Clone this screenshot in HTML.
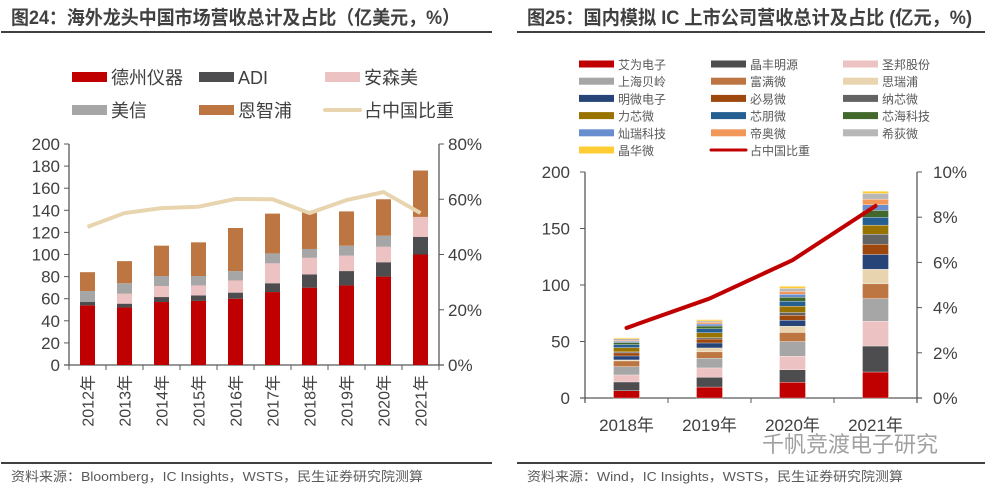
<!DOCTYPE html>
<html><head><meta charset="utf-8"><style>
html,body{margin:0;padding:0;background:#fff;width:986px;height:487px;overflow:hidden}
svg{display:block;font-family:"Liberation Sans","Noto Sans CJK SC",sans-serif}
</style></head><body>
<svg id="s" width="986" height="487" xmlns="http://www.w3.org/2000/svg">
<g>
<text x="11" y="24" font-size="19" font-weight="bold" fill="#404040" textLength="449" lengthAdjust="spacingAndGlyphs">图24：海外龙头中国市场营收总计及占比（亿美元，%）</text>
<rect x="1" y="31" width="491" height="2" fill="#404040"/>
</g>
<g>
<text x="527" y="24" font-size="19" font-weight="bold" fill="#404040" textLength="445" lengthAdjust="spacingAndGlyphs">图25：国内模拟 IC 上市公司营收总计及占比 (亿元，%)</text>
<rect x="517" y="31" width="468" height="2" fill="#404040"/>
</g>
<rect x="1" y="462" width="491" height="2" fill="#404040"/>
<text x="11" y="481" font-size="13" fill="#595959" textLength="412" lengthAdjust="spacingAndGlyphs">资料来源：Bloomberg，IC Insights，WSTS，民生证券研究院测算</text>
<rect x="517" y="462" width="468" height="2" fill="#404040"/>
<text x="527" y="481" font-size="13" fill="#595959" textLength="376" lengthAdjust="spacingAndGlyphs">资料来源：Wind，IC Insights，WSTS，民生证券研究院测算</text>
<text x="762" y="452" font-size="22" fill="#8a8a8a" opacity="0.8">千帆竞渡电子研究</text>
<g id="L"></g>
<g id="R"></g>
</svg>
<script>
// ---- left chart data ----
const lYears=["2012年","2013年","2014年","2015年","2016年","2017年","2018年","2019年","2020年","2021年"];
const lNames=["德州仪器","ADI","安森美","美信","恩智浦"];
const lColors=["#c00000","#4d4d4f","#ecc2c2","#a6a6a6","#bd7542"];
const lTI=[54,52,57,58,60,66,70,72,80,100];
const lADI=[3,3.5,4.5,5,5.5,8,12,13,13,16];
const lON=[0,9,10,9,11,18,15,14,14,18];
const lMaxim=[10,9.5,9,8.5,8.5,9,8,9,10,0];
const lNXP=[17,20,27.5,30.5,39,36,34,31,33,42];
const lShare=[50,55,56.8,57.3,60.1,60,55,59.7,62.6,55];
const lYTicks=[0,20,40,60,80,100,120,140,160,180,200];
const lPTicks=[0,20,40,60,80];
// ---- right chart data ----
const rYears=["2018年","2019年","2020年","2021年"];
const rNames=["艾为电子","晶丰明源","圣邦股份","上海贝岭","富满微","思瑞浦","明微电子","必易微","纳芯微","力芯微","芯朋微","芯海科技","灿瑞科技","帝奥微","希荻微","晶华微"];
const rColors=["#c00000","#4d4d4f","#ecc2c2","#a6a6a6","#bd7542","#e8d5b0","#264478","#9e480e","#636363","#997300","#255e91","#43682b","#698ed0","#f1975a","#b7b7b7","#ffcd33"];
const rAW=[6.5,9.7,14,23];
const rJF=[7.7,8.6,11,23];
const rSB=[6.2,8.3,12,22];
const rBL=[7.4,8.6,13,20];
const rFM=[5,5.6,8,13];
const rSR=[0.9,3.5,5.6,13];
const rMW=[3.5,4.4,5.3,13];
const rBY=[2.7,3.5,4.4,9];
const rNX=[0.9,1.2,2.4,9];
const rLX=[3.8,4.4,5.6,8];
const rXP=[2.7,3.5,4.4,7];
const rXH=[1.8,2.4,3.5,6];
const rCR=[1.2,1.8,2.7,5];
const rDA=[0.9,1.5,2.4,5];
const rXD=[1.2,1.2,2.7,5];
const rJH=[0.9,1.2,1.8,2];
const rShare=[3.1,4.4,6.1,8.5];
const rYTicks=[0,50,100,150,200];
const rPTicks=[0,2,4,6,8,10];

const NS="http://www.w3.org/2000/svg";
function mk(parent,tag,at){const e=document.createElementNS(NS,tag);for(const k in at)e.setAttribute(k,at[k]);parent.appendChild(e);return e;}

// ---- left chart ----
(function(){
const g=document.getElementById('L');
const x0=69,x1=439,yb=365,yt=144;
const y=v=>yb-(v/200)*(yb-yt);
const yp=v=>yb-(v/80)*(yb-yt);
const n=lYears.length, step=(x1-x0)/n;
const cx=i=>x0+step*(i+0.5);
const series=[lTI,lADI,lON,lMaxim,lNXP];
let a=mk(g,'line',{x1:x0,y1:yt,x2:x0,y2:yb,stroke:'#595959','stroke-width':1.3});

a=mk(g,'line',{x1:x1,y1:yt,x2:x1,y2:yb,stroke:'#595959','stroke-width':1.3});

a=mk(g,'line',{x1:x0-5,y1:yb,x2:x1+5,y2:yb,stroke:'#595959','stroke-width':1.3});

lYTicks.forEach(v=>{
 mk(g,'line',{x1:x0-5,y1:y(v),x2:x0,y2:y(v),stroke:'#595959'});
 const t=mk(g,'text',{x:x0-9,y:y(v)+6,'text-anchor':'end','font-size':17,fill:'#404040'});t.textContent=v;
 
});
lPTicks.forEach(v=>{
 mk(g,'line',{x1:x1,y1:yp(v),x2:x1+5,y2:yp(v),stroke:'#595959'});
 const t=mk(g,'text',{x:x1+9,y:yp(v)+6,'font-size':17,fill:'#404040'});t.textContent=v+'%';
 
});
for(let i=0;i<=n;i++)mk(g,'line',{x1:x0+step*i,y1:yb,x2:x0+step*i,y2:yb+5,stroke:'#595959'});
lYears.forEach((lab,i)=>{
 const t=mk(g,'text',{x:0,y:0,'text-anchor':'end','font-size':16,fill:'#404040',transform:`translate(${cx(i)+6},${yb+10}) rotate(-90)`});t.textContent=lab;
 
});
lYears.forEach((lab,i)=>{
 let acc=0;
 series.forEach((s,k)=>{
  const v=s[i]; if(v<=0) return;
  const r=mk(g,'rect',{x:cx(i)-7.5,y:y(acc+v),width:15,height:y(acc)-y(acc+v),fill:lColors[k]});
  
  acc+=v;
 });
});
const p=mk(g,'polyline',{points:lShare.map((v,i)=>cx(i)+','+yp(v)).join(' '),fill:'none',stroke:'#e8d5b0','stroke-width':4,'stroke-linejoin':'round'});

const lx=[72,199,325], ly=[77,110];
lNames.concat(['占中国比重']).forEach((nm,k)=>{
 const X=lx[k%3],Y=ly[Math.floor(k/3)];
 let sw;
 if(k<5) sw=mk(g,'rect',{x:X,y:Y-5,width:35,height:10,fill:lColors[k]});
 else sw=mk(g,'line',{x1:X,y1:Y,x2:X+35,y2:Y,stroke:'#e8d5b0','stroke-width':4,'stroke-linecap':'round'});
 
 const t=mk(g,'text',{x:X+39,y:Y+7,'font-size':18,fill:'#404040'});t.textContent=nm;
 
});
})();

// ---- right chart ----
(function(){
const g=document.getElementById('R');
const x0=585,x1=917,yb=398,yt=172;
const y=v=>yb-(v/200)*(yb-yt);
const yp=v=>yb-(v/10)*(yb-yt);
const n=rYears.length, step=(x1-x0)/n;
const cx=i=>x0+step*(i+0.5);
const series=[rAW,rJF,rSB,rBL,rFM,rSR,rMW,rBY,rNX,rLX,rXP,rXH,rCR,rDA,rXD,rJH];
let a=mk(g,'line',{x1:x0,y1:yt,x2:x0,y2:yb+5,stroke:'#595959','stroke-width':1.3});

a=mk(g,'line',{x1:x1,y1:yt,x2:x1,y2:yb+5,stroke:'#595959','stroke-width':1.3});

a=mk(g,'line',{x1:x0-5,y1:yb,x2:x1+5,y2:yb,stroke:'#595959','stroke-width':1.3});

rYTicks.forEach(v=>{
 mk(g,'line',{x1:x0-5,y1:y(v),x2:x0,y2:y(v),stroke:'#595959'});
 const t=mk(g,'text',{x:x0-15,y:y(v)+6,'text-anchor':'end','font-size':17,fill:'#404040'});t.textContent=v;
 
});
rPTicks.forEach(v=>{
 mk(g,'line',{x1:x1,y1:yp(v),x2:x1+5,y2:yp(v),stroke:'#595959'});
 const t=mk(g,'text',{x:x1+16,y:yp(v)+6,'font-size':17,fill:'#404040'});t.textContent=v+'%';
 
});
for(let i=0;i<=n;i++)mk(g,'line',{x1:x0+step*i,y1:yb,x2:x0+step*i,y2:yb+5,stroke:'#595959'});
rYears.forEach((lab,i)=>{
 const t=mk(g,'text',{x:cx(i),y:431,'text-anchor':'middle','font-size':17,fill:'#404040'});t.textContent=lab;
 
});
rYears.forEach((lab,i)=>{
 let acc=0;
 series.forEach((s,k)=>{
  const v=s[i]; if(v<=0) return;
  const r=mk(g,'rect',{x:cx(i)-13,y:y(acc+v),width:26,height:y(acc)-y(acc+v),fill:rColors[k],stroke:'#ffffff','stroke-width':0.3});
  
  acc+=v;
 });
});
const p=mk(g,'polyline',{points:rShare.map((v,i)=>cx(i)+','+yp(v)).join(' '),fill:'none',stroke:'#c00000','stroke-width':4,'stroke-linecap':'round','stroke-linejoin':'round'});

const lx=[579,711,843];
rNames.concat(['占中国比重']).forEach((nm,k)=>{
 const X=lx[k%3],Y=64+Math.floor(k/3)*17.2;
 let sw;
 if(k<16) sw=mk(g,'rect',{x:X,y:Y-3.5,width:35,height:7,fill:rColors[k]});
 else sw=mk(g,'line',{x1:X,y1:Y,x2:X+35,y2:Y,stroke:'#c00000','stroke-width':3,'stroke-linecap':'round'});
 
 const t=mk(g,'text',{x:X+39,y:Y+5,'font-size':12,fill:'#595959'});t.textContent=nm;
 
});
})();
</script>
</body></html>
